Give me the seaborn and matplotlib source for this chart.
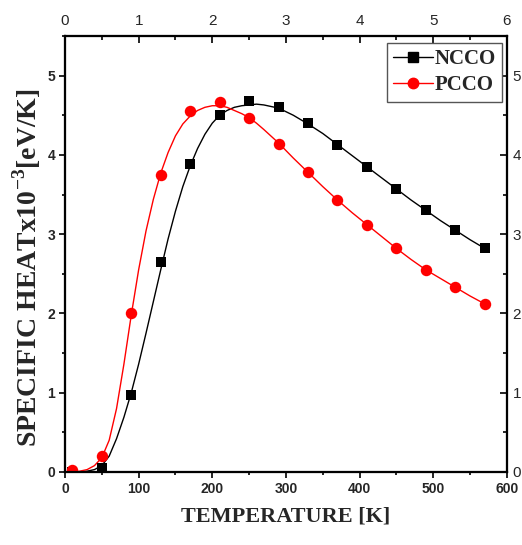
import matplotlib
matplotlib.use("Agg")
import matplotlib.pyplot as plt
import seaborn as sns
import pandas as pd
from matplotlib.lines import Line2D
from matplotlib.ticker import MultipleLocator

sns.set_style("white")
plt.rcParams["font.family"] = ["Liberation Sans", "DejaVu Sans"]
plt.rcParams["mathtext.fontset"] = "custom"
plt.rcParams["mathtext.rm"] = "Liberation Serif"
plt.rcParams["mathtext.bf"] = "Liberation Serif:bold"

# measured points (markers)
temp_pts = [10, 50, 90, 130, 170, 210, 250, 290, 330, 370, 410, 450, 490, 530, 570]
ncco_pts = [0.0, 0.05, 0.97, 2.65, 3.88, 4.50, 4.68, 4.60, 4.40, 4.13, 3.85, 3.57, 3.30, 3.05, 2.82]
pcco_pts = [0.02, 0.20, 2.00, 3.75, 4.55, 4.67, 4.46, 4.14, 3.78, 3.43, 3.12, 2.82, 2.55, 2.33, 2.12]

# fitted curves
temp_fit = [10, 20, 30, 40, 50, 60, 70, 80, 90, 100, 110, 120, 130, 140, 150, 160, 170,
            180, 190, 200, 210, 220, 230, 240, 250, 260, 270, 290, 310, 330, 350, 370,
            390, 410, 430, 450, 470, 490, 510, 530, 550, 570]
ncco_fit = [0.0, 0.0, 0.01, 0.03, 0.08, 0.2, 0.42, 0.69, 1.00, 1.36, 1.75, 2.15, 2.55,
            2.94, 3.29, 3.60, 3.86, 4.08, 4.26, 4.40, 4.50, 4.56, 4.60, 4.62, 4.63, 4.64,
            4.63, 4.59, 4.50, 4.39, 4.27, 4.13, 3.99, 3.85, 3.71, 3.57, 3.43, 3.30, 3.17,
            3.05, 2.93, 2.82]
pcco_fit = [0.0, 0.01, 0.03, 0.08, 0.18, 0.40, 0.80, 1.36, 1.98, 2.55, 3.04, 3.44, 3.77,
            4.03, 4.24, 4.39, 4.49, 4.56, 4.60, 4.62, 4.62, 4.60, 4.56, 4.52, 4.47, 4.40,
            4.32, 4.15, 3.96, 3.78, 3.60, 3.43, 3.27, 3.12, 2.97, 2.82, 2.68, 2.55, 2.44,
            2.33, 2.22, 2.12]

fit_df = pd.DataFrame({"T": temp_fit, "NCCO": ncco_fit, "PCCO": pcco_fit})
pts_df = pd.DataFrame({"T": temp_pts, "NCCO": ncco_pts, "PCCO": pcco_pts})

fig = plt.figure(figsize=(5.22, 5.45), dpi=100)
ax = fig.add_axes([0.1245, 0.134, 0.8465, 0.8])

sns.lineplot(data=fit_df, x="T", y="NCCO", color="black", lw=1.0, ax=ax)
sns.lineplot(data=fit_df, x="T", y="PCCO", color="red", lw=1.0, ax=ax)
sns.scatterplot(data=pts_df, x="T", y="NCCO", marker="s", s=50, color="black",
                edgecolor="black", linewidth=0, ax=ax, zorder=3)
sns.scatterplot(data=pts_df, x="T", y="PCCO", marker="o", s=68, color="red",
                edgecolor="red", linewidth=0, ax=ax, zorder=4)

ax.set_xlim(0, 600)
ax.set_ylim(0, 5.5)
ax.xaxis.set_major_locator(MultipleLocator(100))
ax.xaxis.set_minor_locator(MultipleLocator(50))
ax.yaxis.set_major_locator(MultipleLocator(1))
ax.yaxis.set_minor_locator(MultipleLocator(0.5))
ax.tick_params(which="both", direction="out", top=False, right=False,
               bottom=True, left=True, width=1.2, color="black")
ax.tick_params(which="major", length=4, labelsize=10, pad=3)
ax.tick_params(which="minor", length=2)
for lab in ax.get_xticklabels() + ax.get_yticklabels():
    lab.set_fontweight("bold")

for sp in ax.spines.values():
    sp.set_linewidth(1.5)
    sp.set_color("black")

ax.set_xlabel("TEMPERATURE [K]", family="Liberation Serif", fontweight="bold",
              fontsize=16, labelpad=8)
ax.set_ylabel("SPECIFIC HEATx10$^{\\mathbf{-3}}$[eV/K]", family="Liberation Serif",
              fontweight="bold", fontsize=20)
ax.yaxis.set_label_coords(-0.05, 0.468)

ax_top = ax.twiny()
ax_top.set_xlim(0, 6)
ax_top.xaxis.set_major_locator(MultipleLocator(1))
ax_top.xaxis.set_minor_locator(MultipleLocator(0.5))
ax_top.tick_params(which="both", direction="in", top=True, bottom=False,
                   width=1.2, color="black", labelsize=11, pad=6)
ax_top.tick_params(which="major", length=5)
ax_top.tick_params(which="minor", length=3)

ax_r = ax.twinx()
ax_r.set_ylim(0, 5.5)
ax_r.yaxis.set_major_locator(MultipleLocator(1))
ax_r.yaxis.set_minor_locator(MultipleLocator(0.5))
ax_r.tick_params(which="both", direction="in", right=True, left=False,
                 width=1.2, color="black", labelsize=11, pad=4)
ax_r.tick_params(which="major", length=5)
ax_r.tick_params(which="minor", length=3)
for a in (ax_top, ax_r):
    for sp in a.spines.values():
        sp.set_linewidth(1.5)
        sp.set_color("black")

handles = [
    Line2D([], [], color="black", lw=1.0, marker="s", markersize=6.5, label="NCCO"),
    Line2D([], [], color="red", lw=1.0, marker="o", markersize=7.5, label="PCCO"),
]
leg = ax_r.legend(handles=handles, loc="upper right", bbox_to_anchor=(0.99, 0.984),
                  prop={"family": "Liberation Serif", "weight": "bold", "size": 15},
                  frameon=True, fancybox=False, framealpha=1, edgecolor="#555555",
                  handlelength=1.9, handletextpad=0.1, borderpad=0.3,
                  labelspacing=0.3, borderaxespad=0)
leg.get_frame().set_linewidth(1.0)

fig.savefig("out.png", dpi=100)
